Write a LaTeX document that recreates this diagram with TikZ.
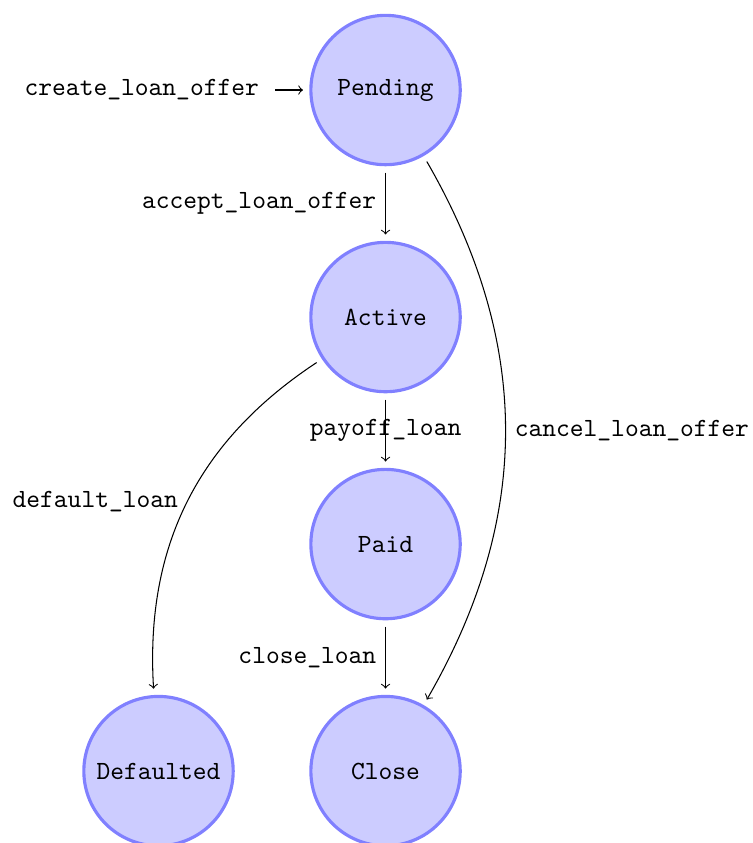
\documentclass[tikz,border=0pt]{standalone}
\usepackage{fontspec}
\begin{document}
\begin{tikzpicture}[
  state/.style={circle, draw=blue!50, fill=blue!20, very thick, minimum size=2cm,
    inner sep=0pt, outer sep=3pt, font=\ttfamily},
  edge/.style={->},
  lbl/.style={font=\ttfamily}
]
\useasboundingbox (-146.9pt,-286.9pt) rectangle (140pt,34.3pt);

% states
\node[state] (P)  at (0,0)               {Pending};
\node[state] (A)  at (0,-86.5pt)         {Active};
\node[state] (Pd) at (0,-173pt)          {Paid};
\node[state] (C)  at (0,-259.5pt)        {Close};
\node[state] (D)  at (-86.5pt,-259.5pt)  {Defaulted};

% initial transition
\node[lbl, anchor=east, inner xsep=6pt] (init) at ([xshift=-10.6pt]P.west) {create\_loan\_offer};
\draw[edge] (init) -- (P);

% transitions
\draw[edge] (P)  -- node[lbl, left] {accept\_loan\_offer} (A);
\draw[edge] (A)  -- node[lbl] {payoff\_loan} (Pd);
\draw[edge] (Pd) -- node[lbl, left] {close\_loan} (C);
\draw[edge] (A)  to[bend right=30] node[lbl, left] {default\_loan} (D);
\draw[edge] (P)  to[bend left=30] node[lbl, right] {cancel\_loan\_offer} (C);
\end{tikzpicture}
\end{document}
